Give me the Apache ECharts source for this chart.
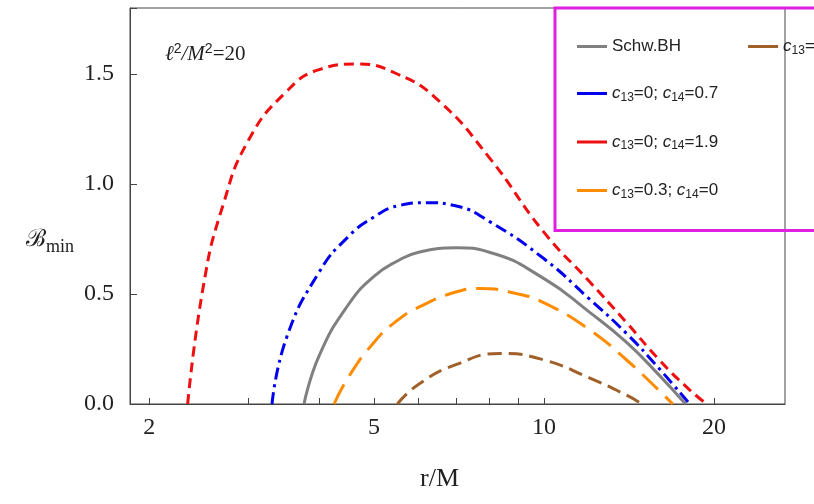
<!DOCTYPE html><html><head><meta charset="utf-8"><script src="https://cdn.jsdelivr.net/npm/echarts@6/dist/echarts.min.js"></script></head><body style="margin:0"><div id="c" style="width:814px;height:504px"></div><script>
const xTicks=[2,5,10,20];
const yTicks=[0,0.5,1.0,1.5];
const schw=[[3.76,0],[4,0.22],[4.5,0.45],[5,0.58],[5.5,0.65],[6,0.69],[7,0.71],[8,0.69],[10,0.57],[12,0.42],[14,0.28],[16,0.13],[17.8,0]];
const blue=[[3.3,0],[3.5,0.3],[4,0.6],[4.5,0.76],[5,0.85],[5.5,0.9],[6.2,0.915],[7,0.9],[8,0.83],[10,0.66],[12,0.48],[14,0.32],[16,0.16],[18.1,0]];
const red=[[2.34,0],[2.5,0.55],[2.7,0.9],[3,1.2],[3.5,1.42],[4,1.52],[4.65,1.545],[5.5,1.5],[6.5,1.38],[8,1.12],[10,0.78],[12,0.56],[14,0.37],[16,0.2],[18,0.07],[19.4,0]];
const orange=[[4.25,0],[4.5,0.12],[5,0.28],[5.5,0.38],[6,0.44],[7,0.51],[7.7,0.525],[9,0.5],[10,0.46],[12,0.34],[14,0.2],[16,0.06],[16.9,0]];
const brown=[[5.5,0],[6,0.09],[7,0.18],[8.36,0.23],[10,0.2],[12,0.12],[14,0.04],[14.9,0]];
const names=['Schw.BH','{i|c}{s|13}=0; {i|c}{s|14}=0.7','{i|c}{s|13}=0; {i|c}{s|14}=1.9','{i|c}{s|13}=0.3; {i|c}{s|14}=0','{i|c}{s|13}=0.6; {i|c}{s|14}=0'];
const ch=echarts.init(document.getElementById('c'));
const ser=(n,d,c,t)=>({name:n,type:'line',data:d,smooth:true,showSymbol:false,symbol:'none',lineStyle:{color:c,width:3,type:t},itemStyle:{color:c}});
ch.setOption({animation:false,
grid:{left:130,right:29,top:8,bottom:100},
xAxis:{type:'log',logBase:10,min:1.85,max:26.7,
 axisLine:{show:true,onZero:false,lineStyle:{color:'#444'}},
 axisTick:{inside:true,customValues:[2,3,4,5,6,7,8,9,10,20],length:6,lineStyle:{color:'#444'}},
 axisLabel:{customValues:xTicks,fontFamily:'Liberation Serif',fontSize:24,color:'#222',margin:12},
 splitLine:{show:false},minorTick:{show:false}},
yAxis:{type:'value',min:0,max:1.8,interval:0.5,
 axisLine:{show:true,lineStyle:{color:'#444'}},axisTick:{inside:true,length:7,lineStyle:{color:'#444'}},
 axisLabel:{formatter:v=>v.toFixed(1),fontFamily:'Liberation Serif',fontSize:24,color:'#222',margin:16,
  customValues:yTicks},splitLine:{show:false}},
legend:{orient:'vertical',left:555,top:8,width:190,height:205,itemWidth:30,itemHeight:3,icon:'rect',itemGap:30,padding:[30,22,30,22],
 borderColor:'#e020e0',borderWidth:3,data:names,
 textStyle:{fontFamily:'Liberation Sans',fontSize:17,color:'#222',rich:{i:{fontStyle:'italic',fontSize:17,fontFamily:'Liberation Sans'},s:{fontSize:12,verticalAlign:'bottom',padding:[8,0,0,0]}}},
 formatter:n=>n},
graphic:[
 {type:'rect',shape:{x:130,y:8,width:655,height:396},style:{fill:'none',stroke:'#444',lineWidth:1}},
 {type:'text',left:165,top:42,style:{text:'{i|ℓ}{s|2}{i|/M}{s|2}=20',fontFamily:'Liberation Serif',fontSize:21,fill:'#222',rich:{i:{fontStyle:'italic',fontSize:21,fontFamily:'Liberation Serif'},s:{fontSize:14,verticalAlign:'top',padding:[0,0,10,0]}}}},
 {type:'text',left:26,top:228,style:{text:'ℬ{s|min}',fontFamily:'DejaVu Serif',fontSize:24,fill:'#222',rich:{s:{fontSize:18,fontFamily:'Liberation Serif',padding:[14,0,0,0]}}}},
 {type:'text',left:420,top:466,style:{text:'r/M',fontFamily:'Liberation Serif',fontSize:26,fill:'#222'}}
],
series:[ser(names[0],schw,'#808080','solid'),ser(names[1],blue,'#0000ee',[12,5,3,5]),ser(names[2],red,'#ee1010',[10,6]),ser(names[3],orange,'#ff8c00',[22,10]),ser(names[4],brown,'#a0602a',[14,7])]
});
</script></body></html>
